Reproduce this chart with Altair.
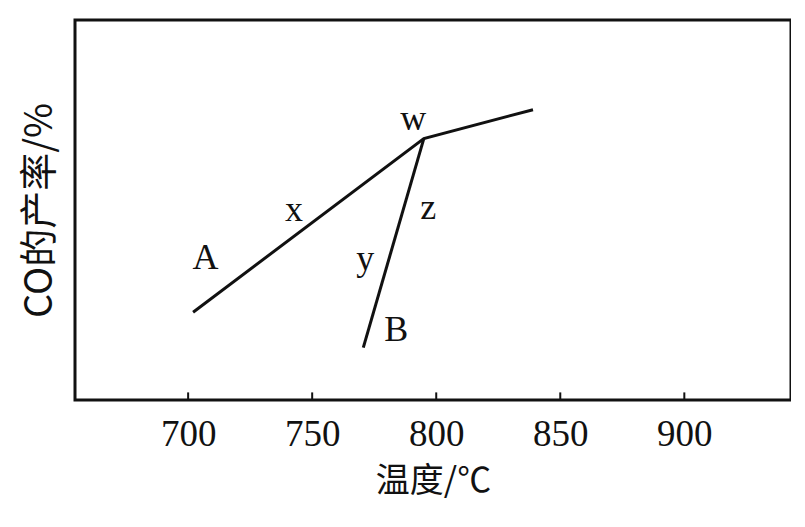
import altair as alt
import pandas as pd

# Data (CO yield in arbitrary %, y axis has no scale)
line_A_temp = [702, 795, 839]
line_A_yield = [23.1, 68.8, 76.4]
line_B_temp = [770.6, 795]
line_B_yield = [13.8, 68.8]

label_text = ["A", "x", "w", "z", "y", "B"]
label_temp = [707, 742.7, 790.7, 796.8, 771.4, 783.9]
label_yield = [37.4, 49.9, 74.0, 50.4, 37.1, 18.4]

tick_values = [700, 750, 800, 850, 900]

lines = pd.DataFrame({
    "temp": line_A_temp + line_B_temp,
    "yield": line_A_yield + line_B_yield,
    "series": ["A"] * len(line_A_temp) + ["B"] * len(line_B_temp),
})
labels = pd.DataFrame({"temp": label_temp, "yield": label_yield, "text": label_text})
ticks = pd.DataFrame({"temp": tick_values, "y0": [0] * 5, "y1": [2.0] * 5})

xscale = alt.Scale(domain=[654.4, 943], nice=False, zero=False)
yscale = alt.Scale(domain=[0, 100], nice=False)

xaxis = alt.Axis(values=tick_values, ticks=False, domain=False, grid=False,
                 labelFont="Liberation Serif", labelFontSize=37, labelColor="#111",
                 labelPadding=16, title="温度/℃", titleFont="Noto Sans CJK SC",
                 titleFontSize=34, titleFontWeight="normal", titleColor="#111",
                 titlePadding=12)
yaxis = alt.Axis(labels=False, ticks=False, domain=False, grid=False,
                 title="CO的产率/%", titleFont="Noto Sans CJK SC", titleFontSize=38,
                 titleFontWeight="normal", titleColor="#111", titlePadding=16)

base_lines = alt.Chart(lines).mark_line(color="#111", strokeWidth=3).encode(
    x=alt.X("temp:Q", scale=xscale, axis=xaxis),
    y=alt.Y("yield:Q", scale=yscale, axis=yaxis),
    detail="series:N",
)

tick_marks = alt.Chart(ticks).mark_rule(color="#111", strokeWidth=2).encode(
    x="temp:Q", y="y0:Q", y2="y1:Q"
)

text = alt.Chart(labels).mark_text(
    font="Liberation Serif", fontSize=36, color="#111"
).encode(x="temp:Q", y="yield:Q", text="text:N")

chart = alt.layer(base_lines, tick_marks, text).properties(
    width=716, height=380, background="white",
    padding={"left": 13, "top": 12, "right": 0, "bottom": 12},
).configure_view(stroke="#111", strokeWidth=3)

chart.save("out.html", embed_options={"renderer": "svg", "actions": False})
